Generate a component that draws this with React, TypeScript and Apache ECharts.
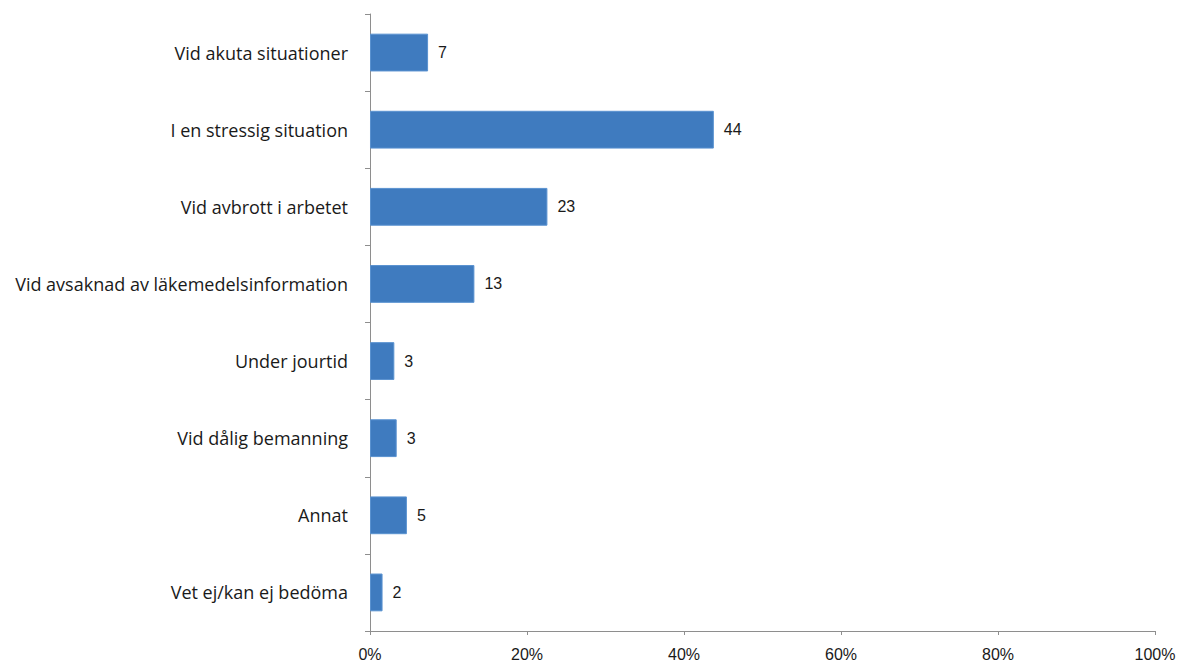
import React, { useEffect, useRef } from "react";
import * as echarts from "echarts";

const categories = [
  "Vid akuta situationer",
  "I en stressig situation",
  "Vid avbrott i arbetet",
  "Vid avsaknad av läkemedelsinformation",
  "Under jourtid",
  "Vid dålig bemanning",
  "Annat",
  "Vet ej/kan ej bedöma",
];
const percentValues = [7.4, 43.8, 22.6, 13.3, 3.1, 3.4, 4.7, 1.6];
const xTicks = [0, 20, 40, 60, 80, 100];

export default function App() {
  const ref = useRef<HTMLDivElement>(null);
  useEffect(() => {
    if (!ref.current) return;
    const chart = echarts.init(ref.current, undefined, { renderer: "svg" });
    const axisColor = "#8e8e8e";
    chart.setOption({
      animation: false,
      grid: { left: 370, right: 27, top: 14, bottom: 34, containLabel: false },
      xAxis: {
        type: "value",
        min: xTicks[0],
        max: xTicks[xTicks.length - 1],
        interval: 20,
        axisLine: { show: true, lineStyle: { color: axisColor, width: 1 } },
        axisTick: { show: true, length: 4, lineStyle: { color: axisColor } },
        splitLine: { show: false },
        axisLabel: {
          margin: 15,
          formatter: (v: number) => v + "%",
          fontFamily: "Liberation Sans, Arial, sans-serif",
          fontSize: 16,
          color: "#1a1a1a",
        },
      },
      yAxis: {
        type: "category",
        data: categories,
        inverse: true,
        axisLine: { show: true, lineStyle: { color: axisColor, width: 1 } },
        axisTick: { show: true, length: 5, lineStyle: { color: axisColor } },
        axisLabel: {
          margin: 22,
          fontFamily: "Open Sans, Noto Sans, sans-serif",
          fontSize: 18,
          color: "#1a1a1a",
        },
      },
      series: [
        {
          type: "bar",
          data: percentValues,
          barCategoryGap: "51%",
          itemStyle: { color: "#3f7bbf", borderColor: "#5a92d0", borderWidth: 1 },
          label: {
            show: true,
            position: "right",
            distance: 10,
            formatter: (p: any) => String(Math.round(p.value)),
            fontFamily: "Liberation Sans, Arial, sans-serif",
            fontSize: 16,
            color: "#1a1a1a",
          },
        },
      ],
    });
    return () => chart.dispose();
  }, []);
  return <div ref={ref} style={{ width: 1182, height: 665, position: "absolute", left: 0, top: 0 }} />;
}
